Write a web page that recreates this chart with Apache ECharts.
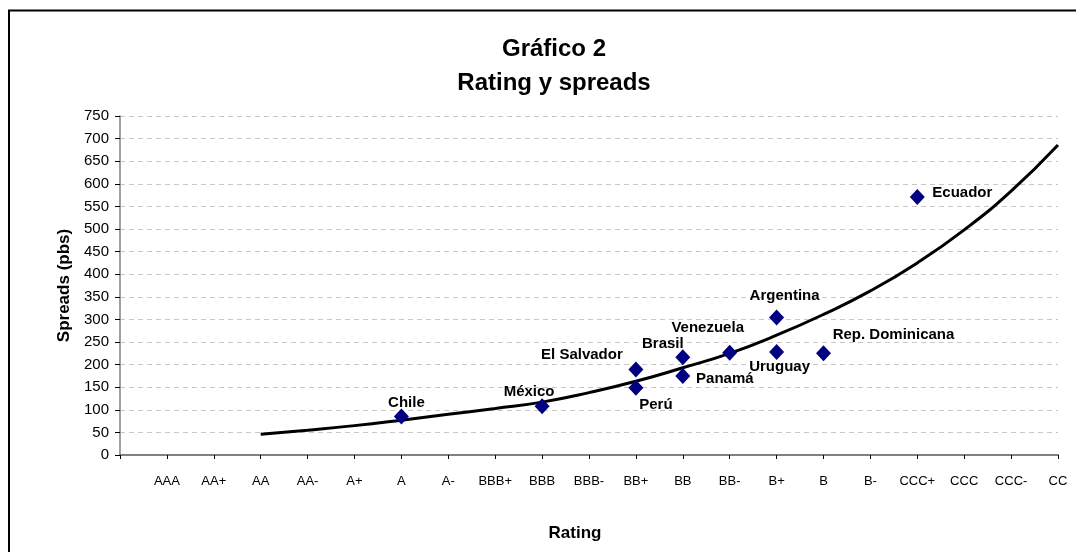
<!DOCTYPE html>
<html>
<head>
<meta charset="utf-8">
<title>Gráfico 2 - Rating y spreads</title>
<script src="https://cdn.jsdelivr.net/npm/echarts@6/dist/echarts.min.js"></script>
<style>
  html, body { margin: 0; padding: 0; background: #fff; }
  #chart { width: 1076px; height: 552px; }
</style>
</head>
<body>
<div id="chart"></div>
<script>
// rating scale on the x axis (first slot left blank, like the original)
const ratings = ['', 'AAA', 'AA+', 'AA', 'AA-', 'A+', 'A', 'A-', 'BBB+', 'BBB', 'BBB-',
  'BB+', 'BB', 'BB-', 'B+', 'B', 'B-', 'CCC+', 'CCC', 'CCC-', 'CC']

// countries: rating and spread (pbs)
const countries = ['Chile', 'México', 'El Salvador', 'Perú', 'Brasil', 'Panamá',
  'Venezuela', 'Argentina', 'Uruguay', 'Rep. Dominicana', 'Ecuador']
const countryRating = ['A', 'BBB', 'BB+', 'BB+', 'BB', 'BB', 'BB-', 'B+', 'B+', 'B', 'CCC+']
const countrySpread = [85, 108, 189, 149, 216, 175, 226, 304, 228, 225, 571]

// trend curve at each rating
const trendRating = ['AA', 'AA-', 'A+', 'A', 'A-', 'BBB+', 'BBB', 'BBB-', 'BB+', 'BB',
  'BB-', 'B+', 'B', 'B-', 'CCC+', 'CCC', 'CCC-', 'CC']
const trendSpread = [46, 55, 65, 77, 90, 103, 117, 138, 163, 193, 225, 265, 311, 363, 425, 498, 584, 686]

const yTicks = { min: 0, max: 750, step: 50 }

// where each country name sits relative to its marker
const labelNudge = {
  'Chile': [5, -14],
  'México': [-13, -14],
  'El Salvador': [-54, -15],
  'Perú': [20, 17],
  'Brasil': [-20, -14],
  'Panamá': [42, 3],
  'Venezuela': [-22, -25],
  'Argentina': [8, -22],
  'Uruguay': [3, 15],
  'Rep. Dominicana': [70, -18],
  'Ecuador': [45, -4]
}

const font = '"Liberation Sans", Arial, sans-serif'

const chart = echarts.init(document.getElementById('chart'))

const scatterData = countries.map((name, i) => ({
  name: name,
  value: [countryRating[i], countrySpread[i]],
  label: { offset: labelNudge[name] }
}))

const options = {
  backgroundColor: '#fff',
  animation: false,
  title: {
    text: 'Gráfico 2\nRating y spreads',
    left: 549,
    top: 27,
    textAlign: 'center',
    textStyle: {
      fontFamily: font,
      fontSize: 24,
      fontWeight: 'bold',
      color: '#000',
      lineHeight: 34
    }
  },
  graphic: [{
    type: 'rect',
    shape: { x: 9, y: 10.5, width: 1200, height: 700 },
    style: { fill: 'none', stroke: '#000', lineWidth: 2 },
    silent: true
  }],
  grid: {
    left: 120,
    right: 18,
    top: 116,
    bottom: 97
  },
  xAxis: {
    type: 'category',
    data: ratings,
    boundaryGap: false,
    name: 'Rating',
    nameLocation: 'middle',
    nameGap: 70,
    nameTextStyle: {
      fontFamily: font,
      fontSize: 17,
      fontWeight: 'bold',
      color: '#000',
      padding: [0, 28, 0, 0]
    },
    axisLine: { lineStyle: { color: '#808080', width: 2 } },
    axisTick: { show: true, length: 4, interval: 0, lineStyle: { color: '#000' } },
    axisLabel: {
      interval: 0,
      margin: 20,
      fontFamily: font,
      fontSize: 13,
      color: '#000'
    },
    splitLine: { show: false }
  },
  yAxis: {
    type: 'value',
    min: yTicks.min,
    max: yTicks.max,
    interval: yTicks.step,
    name: 'Spreads (pbs)',
    nameLocation: 'middle',
    nameGap: 47,
    nameTextStyle: {
      fontFamily: font,
      fontSize: 17,
      fontWeight: 'bold',
      color: '#000'
    },
    axisLine: { show: true, lineStyle: { color: '#808080', width: 1.5 } },
    axisTick: { show: true, length: 5, lineStyle: { color: '#000' } },
    axisLabel: {
      margin: 11,
      fontFamily: font,
      fontSize: 15,
      color: '#000'
    },
    splitLine: {
      lineStyle: { color: '#c8c8c8', type: [5, 4], width: 1 }
    }
  },
  series: [
    {
      type: 'line',
      data: trendRating.map((r, i) => [r, trendSpread[i]]),
      smooth: true,
      showSymbol: false,
      lineStyle: { color: '#000', width: 3 },
      z: 2
    },
    {
      type: 'scatter',
      data: scatterData,
      symbol: 'diamond',
      symbolSize: [15, 16],
      itemStyle: { color: '#000080', opacity: 1 },
      label: {
        show: true,
        position: 'inside',
        formatter: p => p.name,
        fontFamily: font,
        fontSize: 15,
        fontWeight: 'bold',
        color: '#000',
        opacity: 1,
        textBorderWidth: 0
      },
      z: 3
    }
  ]
}

chart.setOption(options)
</script>
</body>
</html>
